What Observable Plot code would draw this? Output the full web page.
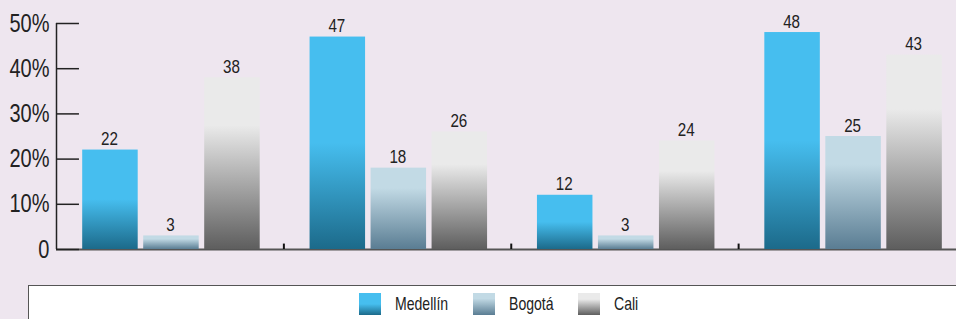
<!DOCTYPE html>
<html>
<head>
<meta charset="utf-8">
<script src="https://cdn.jsdelivr.net/npm/d3@7"></script>
<script src="https://cdn.jsdelivr.net/npm/@observablehq/plot@0.6"></script>
<style>
  html, body { margin: 0; padding: 0; background: #EEE6EF; overflow: hidden; }
  body { width: 956px; height: 319px; font-family: "Liberation Sans", Arial, sans-serif; }
  #chart svg { display: block; }
  .legend {
    margin-left: 28px; width: 940px; height: 60px; box-sizing: border-box;
    background: #fff; border-top: 1.5px solid #555; border-left: 1.5px solid #555;
    display: flex; justify-content: center; align-items: flex-start; padding-top: 6.5px;
  }
  .item { display: flex; align-items: center; margin: 0 12.5px; }
  .sw { width: 22px; height: 22px; margin-right: 14px; }
  .lab { display: inline-block; font-size: 19px; color: #222; line-height: 22px; transform: scaleX(0.74); transform-origin: 0 50%; white-space: nowrap; }
</style>
</head>
<body>
<div id="chart"></div>
<div class="legend" id="legend"></div>
<script>
// ---- data ----
const categories = ["G1", "G2", "G3", "G4"];
const series = ["Medellín", "Bogotá", "Cali"];
const medellin = [22, 47, 12, 48];
const bogota = [3, 18, 3, 25];
const cali = [38, 26, 24, 43];
const yTicks = [0, 10, 20, 30, 40, 50];
const yTickLabels = ["0", "10%", "20%", "30%", "40%", "50%"];

// ---- styles ----
const gradients = {
  "Medellín": {id: "gMed", stops: [[0, "#46BEEF"], [0.5, "#46BEEF"], [1, "#1C6A8A"]]},
  "Bogotá": {id: "gBog", stops: [[0, "#C2DAE5"], [0.25, "#C2DAE5"], [1, "#5A7D93"]]},
  "Cali": {id: "gCal", stops: [[0, "#EAEAEA"], [0.28, "#EAEAEA"], [1, "#5E5E5E"]]}
};
const valuesBySeries = {"Medellín": medellin, "Bogotá": bogota, "Cali": cali};

const data = [];
series.forEach((s) => valuesBySeries[s].forEach((v, i) => data.push({cat: categories[i], gi: i, series: s, value: v})));

const X0 = 56, X1 = 965.5;           // x range (chart continues past right edge)
const groupW = (X1 - X0) / categories.length;
const barW = 55.5, barStep = 61, barOff = 26.2;
const CONDENSE = 0.8;

const defs = () => {
  const d = d3.create("svg:defs");
  for (const s of series) {
    const g = d.append("linearGradient").attr("id", gradients[s].id).attr("x1", 0).attr("y1", 0).attr("x2", 0).attr("y2", 1);
    for (const [o, c] of gradients[s].stops) g.append("stop").attr("offset", o).attr("stop-color", c);
  }
  return d.node();
};

const barMarks = series.flatMap((s, j) => {
  const L = barOff + barStep * j;
  const R = groupW - L - barW;
  const rows = data.filter(d => d.series === s);
  return [
    Plot.rectY(rows, {x1: d => d.gi, x2: d => d.gi + 1, y1: 0, y2: "value", insetLeft: L, insetRight: R, fill: `url(#${gradients[s].id})`}),
    Plot.text(rows, {x: d => d.gi + 0.5, y: "value", text: d => String(d.value), dx: L + barW / 2 - groupW / 2 - 1, dy: -5, lineAnchor: "bottom", fontSize: 19, fill: "#222", className: "cond"})
  ];
});

const plot = Plot.plot({
  width: 956,
  height: 285,
  marginLeft: 56,
  marginRight: 0,
  marginTop: 23,
  marginBottom: 36,
  style: {background: "transparent", fontFamily: "'Liberation Sans', Arial, sans-serif", color: "#222"},
  x: {domain: [0, categories.length], range: [X0, X1], axis: null},
  y: {domain: [0, 50], range: [249, 23], axis: null},
  marks: [
    defs,
    Plot.ruleY([0], {stroke: "#555", strokeWidth: 2.2}),
    Plot.ruleX([0], {y1: 0, y2: 50, stroke: "#222", strokeWidth: 1.5}),
    Plot.ruleY(yTicks, {x1: 0, x2: 0.101, stroke: "#222", strokeWidth: 1.5}),
    Plot.ruleX(d3.range(1, categories.length), {y1: 0, y2: 1.2, stroke: "#111", strokeWidth: 2}),
    Plot.text(yTicks, {x: 0, y: d => d, text: (d, i) => yTickLabels[i], textAnchor: "end", dx: -7, fontSize: 25, fill: "#222", className: "cond"}),
    ...barMarks
  ]
});
document.getElementById("chart").appendChild(plot);

// horizontally condense text (the original uses a condensed typeface)
plot.querySelectorAll("g.cond text").forEach((t) => {
  const tr = t.getAttribute("transform") || "";
  if (/translate/.test(tr)) {
    t.setAttribute("transform", `${tr} scale(${CONDENSE},1)`);
  } else {
    const xa = t.getAttribute("x"), ya = t.getAttribute("y");
    let px = 0, py = 0;
    if (xa && !/em/.test(xa)) { px = +xa; t.setAttribute("x", 0); }
    if (ya && !/em/.test(ya)) { py = +ya; t.setAttribute("y", 0); }
    t.setAttribute("transform", `${tr} translate(${px},${py}) scale(${CONDENSE},1)`);
  }
});

// legend
const leg = document.getElementById("legend");
for (const s of series) {
  const it = document.createElement("div"); it.className = "item";
  const sw = document.createElement("div"); sw.className = "sw";
  const st = gradients[s].stops.map(([o, c]) => `${c} ${o * 100}%`).join(", ");
  sw.style.background = `linear-gradient(to bottom, ${st})`;
  const lb = document.createElement("span"); lb.className = "lab"; lb.textContent = s;
  it.appendChild(sw); it.appendChild(lb); leg.appendChild(it);
  lb.style.marginRight = `${-lb.offsetWidth * 0.26}px`;
}
</script>
</body>
</html>
